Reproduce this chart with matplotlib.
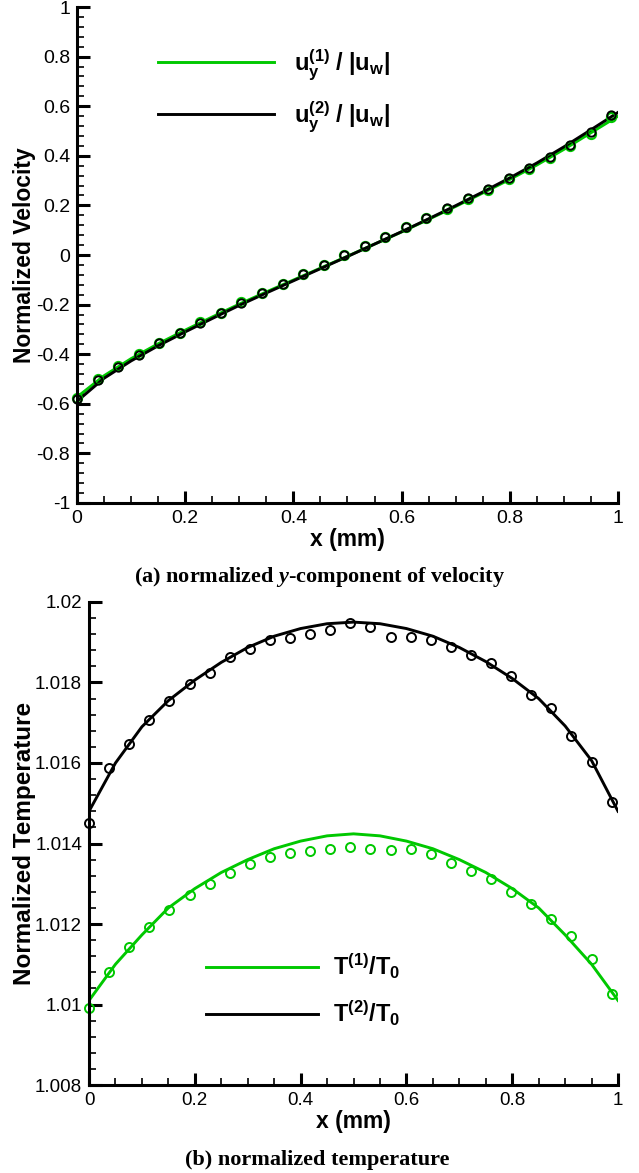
import numpy as np
import matplotlib
matplotlib.use('Agg')
import matplotlib.pyplot as plt
from matplotlib.ticker import MultipleLocator, FormatStrFormatter

plt.rcParams['font.family'] = ['Liberation Sans', 'DejaVu Sans']
plt.rcParams['axes.unicode_minus'] = False
plt.rcParams['mathtext.fontset'] = 'custom'
plt.rcParams['mathtext.rm'] = 'Liberation Sans'
plt.rcParams['mathtext.bf'] = 'Liberation Sans:bold'
plt.rcParams['mathtext.it'] = 'Liberation Serif:italic:bold'

GREEN = '#00c800'

# line data (every 0.05 mm)
x_line = [0, 0.05, 0.1, 0.15, 0.2, 0.25, 0.3, 0.35, 0.4, 0.45, 0.5,
          0.55, 0.6, 0.65, 0.7, 0.75, 0.8, 0.85, 0.9, 0.95, 1.0]
u1_line = [-0.573, -0.487, -0.418, -0.358, -0.303, -0.25, -0.198, -0.149, -0.101, -0.053, -0.005,
           0.044, 0.093, 0.144, 0.196, 0.25, 0.305, 0.363, 0.426, 0.493, 0.56]
u2_line = [-0.59, -0.497, -0.427, -0.366, -0.31, -0.256, -0.203, -0.153, -0.104, -0.055, -0.006,
           0.044, 0.094, 0.146, 0.199, 0.254, 0.311, 0.371, 0.436, 0.505, 0.575]
T1_line = [1.0101, 1.0110, 1.01173, 1.0124, 1.01288, 1.01328, 1.0136, 1.01387, 1.01406, 1.01419, 1.01424,
           1.01419, 1.01406, 1.01387, 1.0136, 1.01328, 1.01288, 1.0124, 1.01173, 1.011, 1.0101]
T2_line = [1.0148, 1.0160, 1.0169, 1.01755, 1.01806, 1.0185, 1.01887, 1.01915, 1.01934, 1.01946, 1.0195,
           1.01946, 1.01934, 1.01915, 1.01887, 1.01852, 1.0181, 1.0176, 1.01692, 1.01606, 1.0148]

# symbol data (27 points, spacing 0.038 mm)
x_sym = [0.0, 0.038, 0.076, 0.114, 0.152, 0.19, 0.228, 0.266, 0.304, 0.342, 0.38, 0.418, 0.456,
         0.494, 0.532, 0.57, 0.608, 0.646, 0.684, 0.722, 0.76, 0.798, 0.836, 0.874, 0.912, 0.95, 0.988]
u1_sym = [-0.575, -0.5, -0.447, -0.4, -0.354, -0.313, -0.272, -0.232, -0.191, -0.152, -0.115, -0.078, -0.039,
          0.0, 0.036, 0.073, 0.111, 0.148, 0.187, 0.226, 0.263, 0.305, 0.347, 0.39, 0.438, 0.489, 0.557]
u2_sym = [-0.58, -0.504, -0.45, -0.402, -0.356, -0.315, -0.274, -0.233, -0.192, -0.153, -0.116, -0.078, -0.039,
          0.0, 0.036, 0.074, 0.113, 0.15, 0.19, 0.229, 0.267, 0.31, 0.352, 0.396, 0.444, 0.495, 0.563]
T1_sym = [1.00992, 1.0108, 1.01144, 1.01192, 1.01236, 1.01272, 1.013, 1.01327, 1.01349, 1.01367, 1.01377,
          1.01382, 1.01387, 1.01391, 1.01386, 1.01383, 1.01386, 1.01375, 1.01352, 1.01331, 1.01312,
          1.01279, 1.0125, 1.01213, 1.01171, 1.01113, 1.01027]
T2_sym = [1.01452, 1.01588, 1.01648, 1.01707, 1.01755, 1.01796, 1.01824, 1.01863, 1.01883, 1.01905, 1.0191,
          1.0192, 1.0193, 1.01947, 1.01938, 1.01913, 1.01914, 1.01905, 1.01889, 1.01868, 1.01849,
          1.01816, 1.01768, 1.01737, 1.01667, 1.01602, 1.01503]

x_ticks = [0, 0.2, 0.4, 0.6, 0.8, 1]
u_ticks = [-1, -0.8, -0.6, -0.4, -0.2, 0, 0.2, 0.4, 0.6, 0.8, 1]
T_ticks = [1.008, 1.01, 1.012, 1.014, 1.016, 1.018, 1.02]

fig = plt.figure(figsize=(6.39, 11.73), dpi=100)
ax1 = fig.add_axes([0.1205, 0.5712, 0.8466, 0.4228])
ax2 = fig.add_axes([0.1393, 0.0750, 0.8279, 0.4118])


def style_axis(ax, yminor, tsize):
    for s in ['top', 'right']:
        ax.spines[s].set_visible(False)
    for s in ['left', 'bottom']:
        ax.spines[s].set_linewidth(2.2)
    ax.xaxis.set_minor_locator(MultipleLocator(0.05))
    ax.yaxis.set_minor_locator(MultipleLocator(yminor))
    ax.tick_params(which='major', direction='in', length=9, width=2.2, labelsize=tsize, pad=5)
    ax.tick_params(which='minor', direction='in', length=5, width=1.2)
    ax.xaxis.set_major_formatter(FormatStrFormatter('%g'))
    ax.yaxis.set_major_formatter(FormatStrFormatter('%g'))
    ax.set_xlim(0, 1)
    ax.set_xticks(x_ticks)
    ax.set_xlabel('x (mm)', fontsize=16.5, fontweight='bold', labelpad=1)


# (a) velocity
ax1.plot(x_line, u1_line, color=GREEN, lw=2.1, label=r'$\mathbf{u_y^{(1)}\ /\ |u_w|}$')
ax1.plot(x_line, u2_line, color='black', lw=2.1, label=r'$\mathbf{u_y^{(2)}\ /\ |u_w|}$')
ax1.plot(x_sym, u1_sym, 'o', mfc='none', mec=GREEN, ms=6.5, mew=1.6, clip_on=False)
ax1.plot(x_sym, u2_sym, 'o', mfc='none', mec='black', ms=6, mew=1.4, clip_on=False)
style_axis(ax1, 0.04, 14)
ax1.set_ylim(-1, 1)
ax1.set_yticks(u_ticks)
ax1.set_ylabel('Normalized Velocity', fontsize=16.5, fontweight='bold', labelpad=0)
ax1.legend(loc='center left', bbox_to_anchor=(0.15, 0.832), frameon=False, fontsize=17,
           handlelength=4.9, handletextpad=0.85, labelspacing=0.75, borderpad=0, borderaxespad=0)

# (b) temperature
ax2.plot(x_line, T1_line, color=GREEN, lw=2.1, label=r'$\mathbf{T^{(1)}/T_0}$')
ax2.plot(x_line, T2_line, color='black', lw=2.1, label=r'$\mathbf{T^{(2)}/T_0}$')
ax2.plot(x_sym, T1_sym, 'o', mfc='none', mec=GREEN, ms=6.5, mew=1.4, clip_on=False)
ax2.plot(x_sym, T2_sym, 'o', mfc='none', mec='black', ms=6.5, mew=1.4, clip_on=False)
style_axis(ax2, 0.0004, 13.5)
ax2.set_ylim(1.008, 1.02)
ax2.set_yticks(T_ticks)
ax2.set_ylabel('Normalized Temperature', fontsize=17.5, fontweight='bold', labelpad=-1)
ax2.legend(loc='center left', bbox_to_anchor=(0.221, 0.197), frameon=False, fontsize=17,
           handlelength=4.75, handletextpad=0.65, labelspacing=0.75, borderpad=0, borderaxespad=0)

# captions
fig.text(0.5, 1 - 582 / 1173, r'(a) normalized $\mathit{y}$-component of velocity', ha='center', va='baseline',
         fontsize=16, fontweight='bold', family=['Liberation Serif', 'DejaVu Serif'])
fig.text(0.497, 1 - 1165 / 1173, '(b) normalized temperature', ha='center', va='baseline',
         fontsize=16, fontweight='bold', family=['Liberation Serif', 'DejaVu Serif'])

fig.savefig('out.png', dpi=100)
